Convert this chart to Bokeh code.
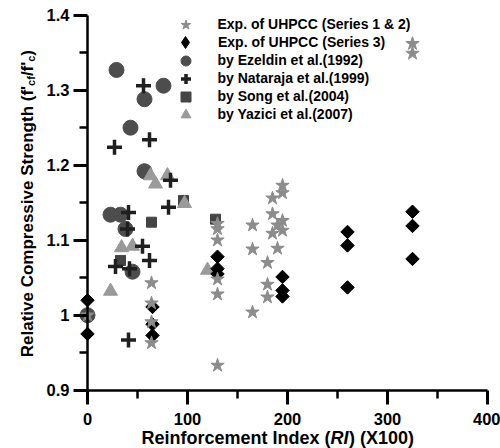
import math
from bokeh.plotting import figure
from bokeh.models import Range1d, FixedTicker, NumeralTickFormatter, Label, Legend, LegendItem
from bokeh.embed import file_html
from bokeh.resources import INLINE

# ---- data ----
s12_x = [0, 64, 64, 64, 64, 130, 130, 130, 130, 130, 130, 165, 165, 165, 180, 180, 180,
         185, 185, 185, 190, 190, 195, 195, 195, 195, 325, 325]
s12_y = [1.0, 1.043, 1.016, 0.991, 0.963, 1.122, 1.115, 1.1, 1.048, 1.028, 0.933, 1.12, 1.088,
         1.004, 1.07, 1.041, 1.024, 1.156, 1.135, 1.109, 1.12, 1.089, 1.173, 1.163, 1.126, 1.113,
         1.362, 1.349]

s3_x = [0, 0, 65, 65, 65, 130, 130, 130, 195, 195, 195, 260, 260, 260, 325, 325, 325]
s3_y = [1.02, 0.975, 1.011, 0.988, 0.973, 1.078, 1.062, 1.055, 1.051, 1.033, 1.025,
        1.111, 1.093, 1.037, 1.138, 1.119, 1.075]

ez_x = [0, 29, 57, 76, 43, 57, 23, 33, 38, 45]
ez_y = [1.0, 1.327, 1.288, 1.306, 1.25, 1.192, 1.134, 1.134, 1.115, 1.058]

na_x = [56, 27, 62, 83, 81, 41, 40, 55, 62, 28, 42, 41]
na_y = [1.306, 1.224, 1.234, 1.18, 1.144, 1.137, 1.115, 1.092, 1.073, 1.065, 1.062, 0.967]

so_x = [96, 64, 128, 33]
so_y = [1.153, 1.124, 1.128, 1.073]

ya_x = [63, 68, 80, 97, 34, 45, 23, 120]
ya_y = [1.186, 1.175, 1.186, 1.149, 1.09, 1.092, 1.032, 1.06]

legend_labels = ["Exp. of UHPCC (Series 1 & 2)", "Exp. of UHPCC (Series 3)",
                 "by Ezeldin et al.(1992)", "by Nataraja et al.(1999)",
                 "by Song et al.(2004)", "by Yazici et al.(2007)"]

x_ticks = [0, 100, 200, 300, 400]
x_minor = [50, 150, 250, 350]
y_ticks = [0.9, 1.0, 1.1, 1.2, 1.3, 1.4]
y_minor = [0.95, 1.05, 1.15, 1.25, 1.35]

FONT = "Liberation Sans"

# the frame covers the whole canvas; axes are pinned at x=0 and y=0.9
p = figure(width=500, height=448, output_backend="svg", toolbar_location=None,
           x_range=Range1d(-87, 413), y_range=Range1d(0.82227, 1.4196),
           min_border=0, min_border_left=0, min_border_right=0,
           min_border_top=0, min_border_bottom=0,
           background_fill_color="white", border_fill_color="white")
p.grid.visible = False
p.outline_line_color = None

r_ez = p.scatter(ez_x, ez_y, marker="circle", size=15, fill_color="#4d4d4d", line_color="#4d4d4d")
r_so = p.scatter(so_x, so_y, marker="square", size=10, fill_color="#444444", line_color="#444444")
r_ya = p.scatter(ya_x, ya_y, marker="triangle", size=14, fill_color="#9a9a9a", line_color="#9a9a9a")
r_s3 = p.scatter(s3_x, s3_y, marker="square", size=9.5, angle=math.pi / 4,
                 fill_color="black", line_color="black")
r_s12 = p.scatter(s12_x, s12_y, marker="star", size=14, fill_color="#8c8c8c", line_color="#8c8c8c")
r_na = p.scatter(na_x, na_y, marker="cross", size=15, line_color="#1f1f1f", line_width=3.5)
# hidden twin of series 3, only used for its diamond-shaped legend symbol
r_s3_leg = p.scatter(s3_x, s3_y, marker="diamond", size=14, fill_color="black",
                     line_color="black", visible=False)

renderers = [r_s12, r_s3_leg, r_ez, r_na, r_so, r_ya]
for i, (lbl, r) in enumerate(zip(legend_labels, renderers)):
    row_center = 24.3 + 18 * i           # px from top of canvas
    gw = 25 if i != 1 else 30
    leg = Legend(items=[LegendItem(label=lbl, renderers=[r])],
                 location=(185 - gw / 2, 448 - row_center - gw / 2), padding=0, spacing=0,
                 glyph_width=gw, glyph_height=gw, label_height=18,
                 label_standoff=int(round(218 - 185 - gw / 2)), label_text_font=FONT,
                 label_text_font_style="bold",
                 label_text_font_size="14px", label_text_color="black",
                 border_line_color=None, background_fill_alpha=0, margin=0,
                 inactive_fill_alpha=0)
    p.add_layout(leg)

for ax in (p.xaxis[0], p.yaxis[0]):
    ax.axis_line_width = 2.5
    ax.axis_line_color = "black"
    ax.major_tick_line_width = 3
    ax.minor_tick_line_width = 2.5
    ax.major_tick_in = 0
    ax.major_tick_out = 14
    ax.minor_tick_in = 0
    ax.minor_tick_out = 8
    ax.major_label_text_font = FONT
    ax.major_label_text_font_style = "bold"
    ax.major_label_text_font_size = "16.5px"
    ax.major_label_text_color = "black"

p.xaxis.ticker = FixedTicker(ticks=x_ticks, minor_ticks=x_minor)
p.yaxis.ticker = FixedTicker(ticks=y_ticks, minor_ticks=y_minor)
p.yaxis.formatter = NumeralTickFormatter(format="0.[0]")
p.xaxis.bounds = (0, 400)
p.yaxis.bounds = (0.9, 1.4)
p.xaxis.fixed_location = 0.9
p.yaxis.fixed_location = 0
p.xaxis.major_label_standoff = 9
p.yaxis.major_label_standoff = 4

# ---- axis titles built from pieces ----
def lab(x, y, text, size="18px", style="bold", align="left", angle=0.0):
    p.add_layout(Label(x=x, y=y, text=text, text_font=FONT, text_font_style=style,
                       text_font_size=size, text_align=align, text_baseline="alphabetic",
                       angle=angle, text_color="black"))

# x title
XT_Y = 0.8365
lab(243, XT_Y, "Reinforcement Index (", align="right")
lab(243, XT_Y, "RI", style="bold italic")
lab(261.5, XT_Y, ") (X100)")

# y title (rotated)
A = math.pi / 2
lab(-60, 1.3004, "Relative Compressive Strength (f", size="17px", align="right", angle=A)
lab(-60, 1.3004, "'", size="17px", angle=A)
lab(-57, 1.3057, "cf", size="11px", angle=A)
lab(-60, 1.3188, "/f'", size="17px", angle=A)
lab(-57, 1.3380, "c", size="11px", angle=A)
lab(-60, 1.3461, ")", size="17px", angle=A)

open("out.html", "w").write(file_html(p, INLINE))
